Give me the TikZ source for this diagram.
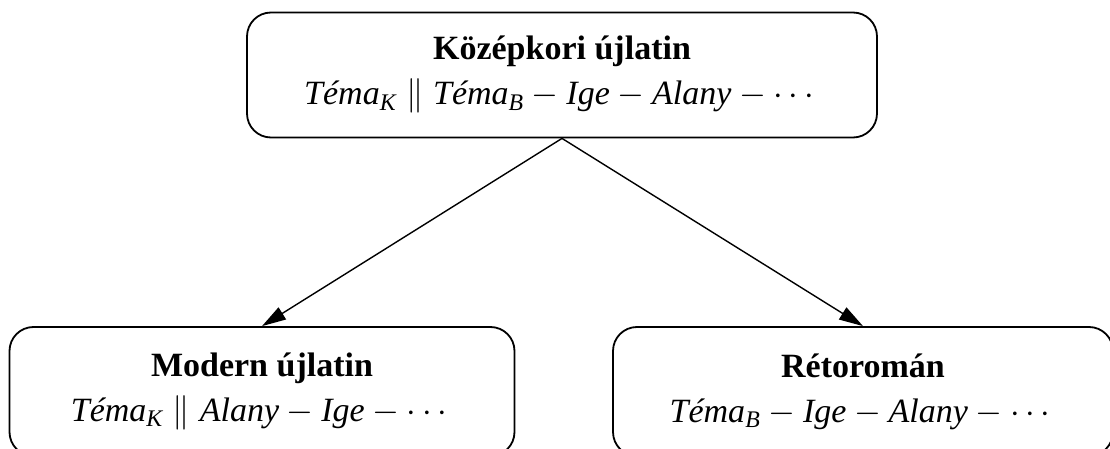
\documentclass[tikz,border=0pt]{standalone}
\usepackage{amsmath}
\usepackage{fontspec}
\setmainfont{Liberation Serif}
\usetikzlibrary{arrows.meta}
\tikzset{
  box/.style={draw, line width=0.9pt, rounded corners=12pt, align=center,
    inner sep=0pt, font=\fontsize{17}{22.5}\selectfont},
  arr/.style={draw, line width=0.7pt, -{Triangle[length=12pt,width=7pt]}}
}
\newcommand{\ti}[1]{\textit{#1}}
\begin{document}
\begin{tikzpicture}[x=0.5pt,y=-0.5pt]
\useasboundingbox (0,0) rectangle (1110,449);
\clip (0,0) rectangle (1110,449);
\node[box, minimum width=315pt, minimum height=62.5pt] (top) at (562,75)
  {\textbf{Középkori újlatin}\\
   $\ti{Téma}_{\ti{K}} \parallel \ti{Téma}_{\ti{B}} - \ti{Ige} - \ti{Alany} - \cdots$};
\node[box, minimum width=252.5pt, minimum height=64.5pt] (left) at (262,391.5)
  {\textbf{Modern újlatin}\\
   $\ti{Téma}_{\ti{K}} \parallel \ti{Alany} - \ti{Ige} - \cdots$};
\node[box, minimum width=250pt, minimum height=64.5pt] (right) at (863,391.5)
  {\textbf{Rétoromán}\\
   $\ti{Téma}_{\ti{B}} - \ti{Ige} - \ti{Alany} - \cdots$};
\draw[arr] (top.south) -- (left.north);
\draw[arr] (top.south) -- (right.north);
\end{tikzpicture}
\end{document}
